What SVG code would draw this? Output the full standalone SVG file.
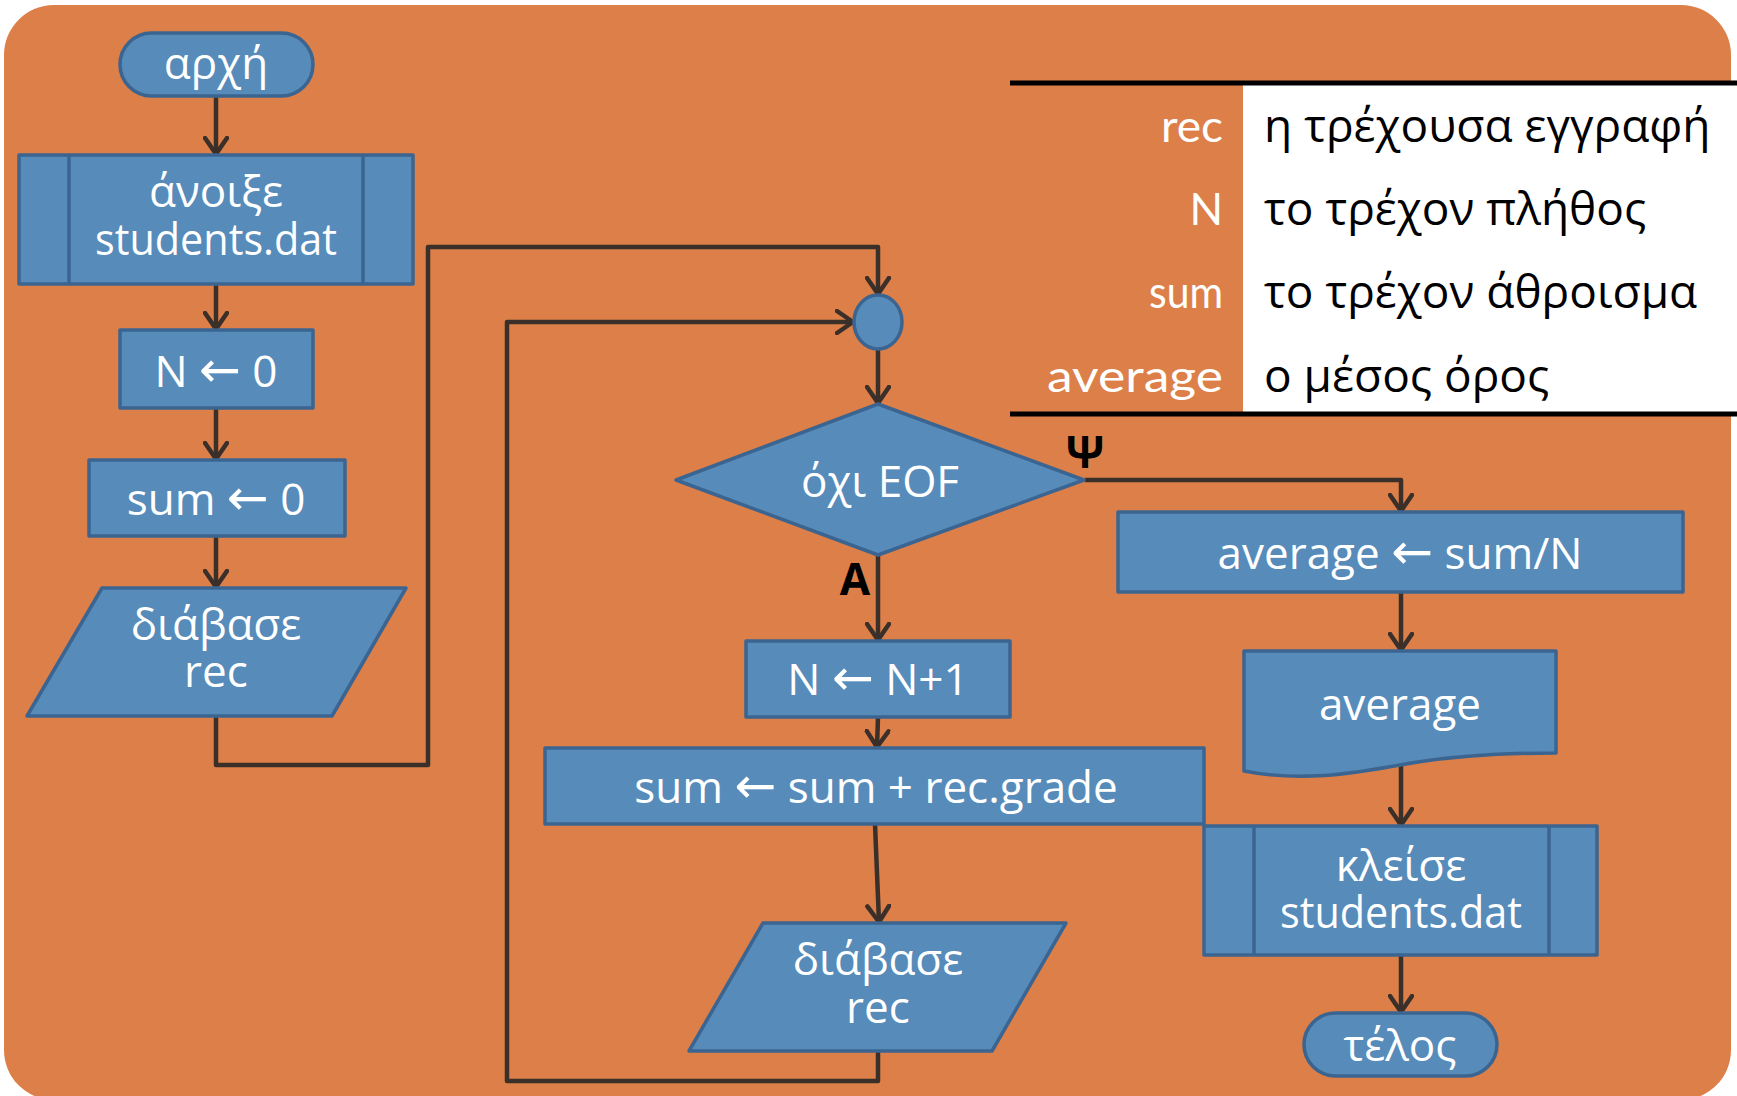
<svg xmlns="http://www.w3.org/2000/svg" width="1737" height="1096" viewBox="0 0 1737 1096">
<defs>
<style>
.bg{fill:#DD7F48}
.nd{fill:#568BBA;stroke:#3B6590;stroke-width:3.5;stroke-linejoin:round}
.ln{fill:none;stroke:#3B6590;stroke-width:3.5}
.t{font-family:"Open Sans","Noto Sans","DejaVu Sans",sans-serif;font-size:44px;fill:#fff;text-anchor:middle}
.ar{font-family:"DejaVu Sans",sans-serif;font-size:50px}
.c{fill:none;stroke:#3B3029;stroke-width:4.5;stroke-linejoin:round}
.lbl{font-family:"Open Sans","DejaVu Sans",sans-serif;font-weight:bold;font-size:44px;fill:#000;text-anchor:middle}
.key{font-family:Lato,"DejaVu Sans",sans-serif;font-size:44px;fill:#fff;text-anchor:end}
.desc{font-family:"Open Sans","Noto Sans",sans-serif;font-size:46px;fill:#000}
</style>
<marker id="ah" viewBox="0 0 20 26" refX="18" refY="13" markerWidth="20" markerHeight="26" markerUnits="userSpaceOnUse" orient="auto">
<path d="M2,2 L18,13 L2,24" fill="none" stroke="#3B3029" stroke-width="4.5" stroke-linecap="round" stroke-linejoin="round"/>
</marker>
</defs>
<rect class="bg" x="4" y="5" width="1727" height="1095" rx="50"/>

<g id="legend">
<rect x="1243" y="83" width="494" height="331" fill="#fff"/>
<line x1="1010" y1="83" x2="1737" y2="83" stroke="#000" stroke-width="5"/>
<line x1="1010" y1="414" x2="1737" y2="414" stroke="#000" stroke-width="5"/>
<text class="key" x="1223" y="142" textLength="62" lengthAdjust="spacingAndGlyphs">rec</text>
<text class="key" x="1223" y="225">N</text>
<text class="key" x="1223" y="308" textLength="74" lengthAdjust="spacingAndGlyphs">sum</text>
<text class="key" x="1223" y="392" textLength="176" lengthAdjust="spacingAndGlyphs">average</text>
<text class="desc" x="1264" y="142">η τρέχουσα εγγραφή</text>
<text class="desc" x="1264" y="225">το τρέχον πλήθος</text>
<text class="desc" x="1264" y="308">το τρέχον άθροισμα</text>
<text class="desc" x="1264" y="392">ο μέσος όρος</text>
</g>

<g id="connectors">
<path class="c" d="M216,96 V154" marker-end="url(#ah)"/>
<path class="c" d="M216,284 V329" marker-end="url(#ah)"/>
<path class="c" d="M216,408 V459" marker-end="url(#ah)"/>
<path class="c" d="M216,536 V587" marker-end="url(#ah)"/>
<path class="c" d="M216,716 V765 H428 V247 H878 V294" marker-end="url(#ah)"/>
<path class="c" d="M878,349 V403" marker-end="url(#ah)"/>
<path class="c" d="M878,555 V640" marker-end="url(#ah)"/>
<path class="c" d="M878,717 L877,747" marker-end="url(#ah)"/>
<path class="c" d="M875,824 L879,922" marker-end="url(#ah)"/>
<path class="c" d="M878,1051 V1081 H507 V322 H853" marker-end="url(#ah)"/>
<path class="c" d="M1085,480 H1401 V511" marker-end="url(#ah)"/>
<path class="c" d="M1401,592 V650" marker-end="url(#ah)"/>
<path class="c" d="M1401,766 V825" marker-end="url(#ah)"/>
<path class="c" d="M1401,955 V1012" marker-end="url(#ah)"/>
<text class="lbl" x="1085" y="468">Ψ</text>
<text class="lbl" x="855" y="595">A</text>
</g>

<g id="start">
<rect class="nd" x="120" y="33" width="193" height="63" rx="31.5"/>
<text class="t" x="216" y="79">αρχή</text>
</g>
<g id="open">
<rect class="nd" x="19" y="155" width="394" height="129"/>
<line class="ln" x1="69" y1="155" x2="69" y2="284"/>
<line class="ln" x1="363" y1="155" x2="363" y2="284"/>
<text class="t" x="216" y="207">άνοιξε</text>
<text class="t" x="216" y="255" textLength="242" lengthAdjust="spacingAndGlyphs">students.dat</text>
</g>
<g id="initN">
<rect class="nd" x="120" y="330" width="193" height="78"/>
<text class="t" x="216" y="387">N <tspan class="ar">←</tspan> 0</text>
</g>
<g id="initSum">
<rect class="nd" x="89" y="460" width="256" height="76"/>
<text class="t" x="216" y="515">sum <tspan class="ar">←</tspan> 0</text>
</g>
<g id="read1">
<polygon class="nd" points="102,588 406,588 332,716 27,716"/>
<text class="t" x="216" y="640">διάβασε</text>
<text class="t" x="216" y="687">rec</text>
</g>
<g id="junction">
<ellipse class="nd" cx="878" cy="322" rx="24" ry="27"/>
</g>
<g id="decision">
<polygon class="nd" points="878,404 1084,480 878,555 676,480"/>
<text class="t" x="880" y="497">όχι EOF</text>
</g>
<g id="incN">
<rect class="nd" x="746" y="641" width="264" height="76"/>
<text class="t" x="878" y="695">N <tspan class="ar">←</tspan> N+1</text>
</g>
<g id="addSum">
<rect class="nd" x="545" y="748" width="659" height="76"/>
<text class="t" x="876" y="803">sum <tspan class="ar">←</tspan> sum + rec.grade</text>
</g>
<g id="read2">
<polygon class="nd" points="763,923 1066,923 992,1051 689,1051"/>
<text class="t" x="878" y="975">διάβασε</text>
<text class="t" x="878" y="1023">rec</text>
</g>
<g id="average">
<rect class="nd" x="1118" y="512" width="565" height="80"/>
<text class="t" x="1400" y="569">average <tspan class="ar">←</tspan> sum/N</text>
</g>
<g id="output">
<path class="nd" d="M1244,651 H1556 V753 C1500,753 1450,756 1400,765 C1350,774 1300,782 1244,771 Z"/>
<text class="t" x="1400" y="720">average</text>
</g>
<g id="close">
<rect class="nd" x="1204" y="826" width="393" height="129"/>
<line class="ln" x1="1254" y1="826" x2="1254" y2="955"/>
<line class="ln" x1="1549" y1="826" x2="1549" y2="955"/>
<text class="t" x="1401" y="881">κλείσε</text>
<text class="t" x="1401" y="928" textLength="242" lengthAdjust="spacingAndGlyphs">students.dat</text>
</g>
<g id="end">
<rect class="nd" x="1304" y="1013" width="193" height="63" rx="31.5"/>
<text class="t" x="1400" y="1061">τέλος</text>
</g>
</svg>
